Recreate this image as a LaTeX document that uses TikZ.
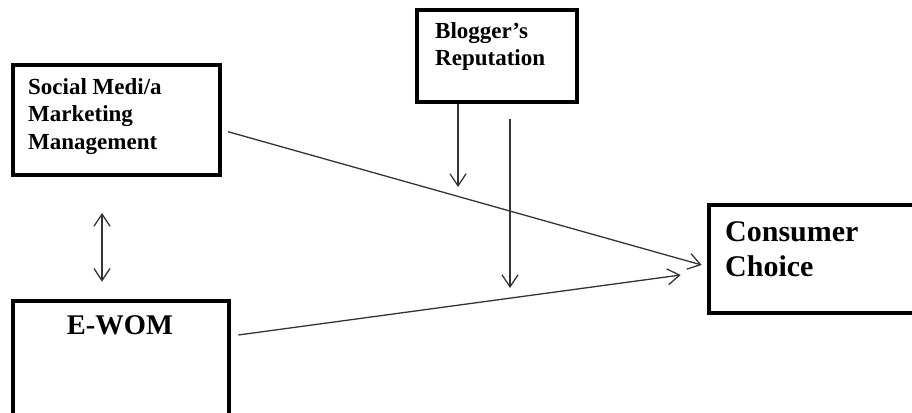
\documentclass[tikz,border=0pt]{standalone}
\usepackage{fontspec}
\setmainfont{Liberation Serif}
\usetikzlibrary{arrows.meta}

\begin{document}
\begin{tikzpicture}[x=1pt,y=-1pt,
        >={Straight Barb[length=12pt,width=16pt]},
        box/.style={draw=black,line width=4pt,rectangle,inner sep=0pt},
        txt/.style={inner sep=0pt,align=left,font=\bfseries\fontsize{23}{27.5}\selectfont},
        bigtxt/.style={inner sep=0pt,align=left,font=\bfseries\fontsize{30}{35}\selectfont},
        link/.style={draw=black!80,line width=1.3pt,->}]

            \useasboundingbox (0,0) rectangle (912,412);
            \clip (0,0) rectangle (912,412);

                \node[box,minimum width=207pt,minimum height=110pt] (social) at (116.5,120){};
                \node[box,minimum width=160pt,minimum height=91pt] (blogger) at (497,56){};
                \node[box,minimum width=221pt,minimum height=108pt] (consumer) at (819.5,259){};
                \node[box,minimum width=216pt,minimum height=129pt] (ewom) at (121,365.5){};

                \node[txt,anchor=base west] (socialtxt) at (28,149){Social Medi/a\\Marketing\\Management};
                \node[txt,anchor=base west] (bloggertxt) at (435,65.5){Blogger’s\\Reputation};
                \node[bigtxt,anchor=base west] (consumertxt) at (725,276){Consumer\\Choice};
                \node[bigtxt,anchor=base,font=\bfseries\fontsize{28.5}{33}\selectfont] (ewomtxt) at (120,334){E-WOM};

                \coordinate (m1) at (458,187);
                \coordinate (m2) at (510,288);

                \draw[link] ([shift={(6,11.7)}]social.east) -- ([shift={(-5.3,6)}]consumer.west);
                \draw[link] ([shift={(7.3,-30.5)}]ewom.east) -- ([shift={(-26.3,16)}]consumer.west);
                \draw[link] ([xshift=-39pt]blogger.south) -- (m1);
                \draw[link] ([shift={(13,15.5)}]blogger.south) -- (m2);
                \draw[link,<->] ([shift={(-14.5,36)}]social.south) -- ([shift={(-19,-17.3)}]ewom.north);

\end{tikzpicture}
\end{document}
